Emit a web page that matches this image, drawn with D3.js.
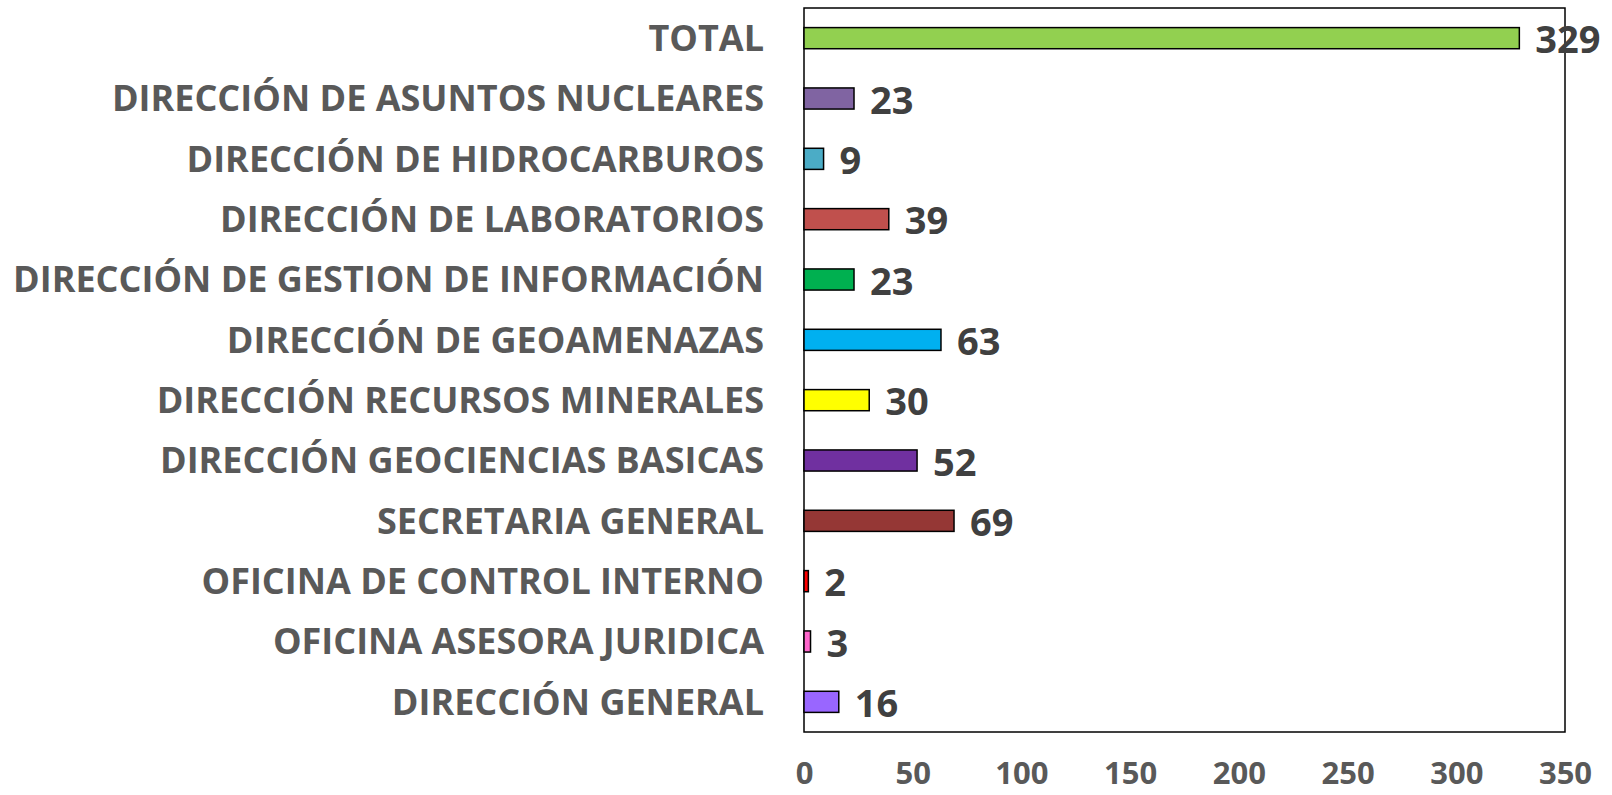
<!DOCTYPE html>
<html lang="es">
<head>
<meta charset="UTF-8">
<script src="https://d3js.org/d3.v7.min.js"></script>
<style>
  body { margin: 0; background: #fff; }
  svg text { font-family: "Open Sans", "Liberation Sans", sans-serif; font-weight: 700; }
</style>
</head>
<body>
<div id="chart"></div>
<script>
// data, top to bottom
var categories = [
  "TOTAL",
  "DIRECCIÓN DE ASUNTOS NUCLEARES",
  "DIRECCIÓN DE HIDROCARBUROS",
  "DIRECCIÓN DE LABORATORIOS",
  "DIRECCIÓN DE GESTION DE INFORMACIÓN",
  "DIRECCIÓN DE GEOAMENAZAS",
  "DIRECCIÓN RECURSOS MINERALES",
  "DIRECCIÓN GEOCIENCIAS BASICAS",
  "SECRETARIA GENERAL",
  "OFICINA DE CONTROL INTERNO",
  "OFICINA ASESORA JURIDICA",
  "DIRECCIÓN GENERAL"
];
var values = [329, 23, 9, 39, 23, 63, 30, 52, 69, 2, 3, 16];
var colors = ["#92D050", "#8064A2", "#4BACC6", "#C0504D", "#00B050", "#00B0F0",
              "#FFFF00", "#7030A0", "#953735", "#FF0000", "#FF66CC", "#9966FF"];
var xTicks = [0, 50, 100, 150, 200, 250, 300, 350];

var W = 1612, H = 795;
var margin = {top: 8, right: 47, bottom: 63, left: 804};
var width = W - margin.left - margin.right,
    height = H - margin.top - margin.bottom;

var svg = d3.select("#chart").append("svg")
    .attr("width", W).attr("height", H);
var g = svg.append("g").attr("transform", "translate(" + margin.left + "," + margin.top + ")");

var x = d3.scaleLinear().domain([0, 350]).range([0, width]);
var y = d3.scaleBand().domain(categories).range([0, height]).paddingInner(0.65).paddingOuter(0.325);

// plot frame
g.append("rect")
  .attr("x", 0).attr("y", 0).attr("width", width).attr("height", height)
  .attr("fill", "none").attr("stroke", "#000").attr("stroke-width", 1.5);

// bars
g.selectAll(".bar").data(values).enter().append("rect")
  .attr("class", "bar")
  .attr("x", x(0))
  .attr("y", function(d, i){ return y(categories[i]); })
  .attr("width", function(d){ return x(d) - x(0); })
  .attr("height", y.bandwidth())
  .attr("fill", function(d, i){ return colors[i]; })
  .attr("stroke", "#000").attr("stroke-width", 1.5);

// value labels
g.selectAll(".val").data(values).enter().append("text")
  .attr("class", "val")
  .attr("x", function(d){ return x(d) + 16; })
  .attr("y", function(d, i){ return y(categories[i]) + y.bandwidth() / 2 + 15; })
  .attr("fill", "#404040")
  .attr("font-size", 38)
  .text(function(d){ return d; });

// category labels
var yAxis = g.append("g").call(d3.axisLeft(y).tickSize(0).tickPadding(40));
yAxis.select(".domain").remove();
yAxis.selectAll("text")
  .attr("fill", "#595959")
  .attr("font-size", 36)
  .attr("dy", "0.36em")
  .style("font-family", "'Open Sans', sans-serif")
  .style("font-weight", 700);

// x axis tick labels
var xAxis = g.append("g").attr("transform", "translate(0," + height + ")")
  .call(d3.axisBottom(x).tickValues(xTicks).tickSize(0).tickPadding(30));
xAxis.select(".domain").remove();
xAxis.selectAll("text")
  .attr("fill", "#595959")
  .attr("font-size", 31)
  .style("font-family", "'Open Sans', sans-serif")
  .style("font-weight", 700);
</script>
</body>
</html>
